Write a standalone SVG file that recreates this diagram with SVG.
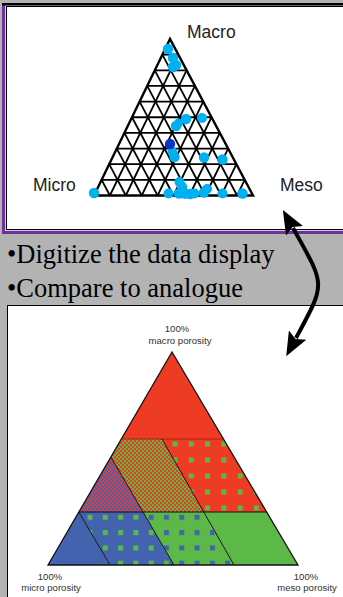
<svg xmlns="http://www.w3.org/2000/svg" width="343" height="597" viewBox="0 0 343 597">
<style>
.grid line{stroke:#000;stroke-width:1.8}
.dot{fill:#00b0f0}
.dk{fill:#0a35c8}
.lbl{font-family:"Liberation Sans",Arial,sans-serif;font-size:17.5px;fill:#222}
.bul{font-family:"Liberation Serif","Times New Roman",serif;font-size:26.5px;fill:#000}
.sm{font-family:"Liberation Sans",Arial,sans-serif;font-size:9.6px;fill:#333;text-anchor:middle}
.edge{fill:none;stroke:#111;stroke-width:1}
</style>
<defs>
<pattern id="chkRG" patternUnits="userSpaceOnUse" width="4" height="4">
<rect width="4" height="4" fill="#ee3b24"/><rect width="2" height="2" fill="#5cb947"/><rect x="2" y="2" width="2" height="2" fill="#5cb947"/>
</pattern>
<pattern id="chkRB" patternUnits="userSpaceOnUse" width="4" height="4">
<rect width="4" height="4" fill="#e03a3a"/><rect width="2" height="2" fill="#4466b0"/><rect x="2" y="2" width="2" height="2" fill="#4466b0"/>
</pattern>
<pattern id="redG" patternUnits="userSpaceOnUse" x="172.5" y="441.5" width="16.3" height="16">
<rect width="16.3" height="16" fill="#ee3b24"/><rect width="5" height="5" fill="#5cb947"/>
</pattern>
<pattern id="blueG" patternUnits="userSpaceOnUse" x="87.5" y="514.8" width="15.3" height="15.3">
<rect width="15.3" height="15.3" fill="#4463ae"/><rect width="5" height="5" fill="#5cb947"/>
</pattern>
<pattern id="greenB" patternUnits="userSpaceOnUse" x="87.5" y="514.8" width="15.3" height="15.3">
<rect width="15.3" height="15.3" fill="#5cb947"/><rect width="5" height="5" fill="#4463ae"/>
</pattern>
<marker id="ah" markerUnits="userSpaceOnUse" markerWidth="24" markerHeight="20" viewBox="0 0 22 18" refX="3" refY="9" orient="auto-start-reverse">
<path d="M0,0 L22,9 L0,18 L4,9 z" fill="#000"/>
</marker>
</defs>
<rect width="343" height="597" fill="#b3b3b3"/>
<g id="top-panel">
<rect x="2" y="4" width="341" height="230" fill="#7030a0"/>
<rect x="5" y="5" width="338" height="226" fill="#cfcfcf"/>
<rect x="6.5" y="6.5" width="337" height="223" fill="#fff" stroke="#000" stroke-width="1"/>
<rect x="2" y="3" width="341" height="2.5" fill="#000"/>
</g>
<g id="ternary-grid" class="grid">
<polygon points="170,39 94,195.5 253,195.5" fill="none" stroke="#000" stroke-width="2.4"/>
<line x1="162.4" y1="54.65" x2="178.3" y2="54.65"/>
<line x1="154.8" y1="70.3" x2="186.6" y2="70.3"/>
<line x1="147.2" y1="85.95" x2="194.9" y2="85.95"/>
<line x1="139.6" y1="101.6" x2="203.2" y2="101.6"/>
<line x1="132" y1="117.25" x2="211.5" y2="117.25"/>
<line x1="124.4" y1="132.9" x2="219.8" y2="132.9"/>
<line x1="116.8" y1="148.55" x2="228.1" y2="148.55"/>
<line x1="109.2" y1="164.2" x2="236.4" y2="164.2"/>
<line x1="101.6" y1="179.85" x2="244.7" y2="179.85"/>
<line x1="109.9" y1="195.5" x2="178.3" y2="54.65"/>
<line x1="125.8" y1="195.5" x2="186.6" y2="70.3"/>
<line x1="141.7" y1="195.5" x2="194.9" y2="85.95"/>
<line x1="157.6" y1="195.5" x2="203.2" y2="101.6"/>
<line x1="173.5" y1="195.5" x2="211.5" y2="117.25"/>
<line x1="189.4" y1="195.5" x2="219.8" y2="132.9"/>
<line x1="205.3" y1="195.5" x2="228.1" y2="148.55"/>
<line x1="221.2" y1="195.5" x2="236.4" y2="164.2"/>
<line x1="237.1" y1="195.5" x2="244.7" y2="179.85"/>
<line x1="109.9" y1="195.5" x2="101.6" y2="179.85"/>
<line x1="125.8" y1="195.5" x2="109.2" y2="164.2"/>
<line x1="141.7" y1="195.5" x2="116.8" y2="148.55"/>
<line x1="157.6" y1="195.5" x2="124.4" y2="132.9"/>
<line x1="173.5" y1="195.5" x2="132" y2="117.25"/>
<line x1="189.4" y1="195.5" x2="139.6" y2="101.6"/>
<line x1="205.3" y1="195.5" x2="147.2" y2="85.95"/>
<line x1="221.2" y1="195.5" x2="154.8" y2="70.3"/>
<line x1="237.1" y1="195.5" x2="162.4" y2="54.65"/>
</g>
<g id="data-points">
<circle class="dot" cx="168" cy="49" r="5.2"/>
<circle class="dot" cx="173" cy="58" r="5.2"/>
<circle class="dot" cx="173" cy="67" r="5.2"/>
<circle class="dot" cx="176" cy="65" r="5.2"/>
<circle class="dot" cx="186" cy="119" r="5.2"/>
<circle class="dot" cx="202" cy="118" r="5"/>
<circle class="dot" cx="176" cy="126" r="5.2"/>
<circle class="dot" cx="178.5" cy="123" r="4.5"/>
<circle class="dot" cx="172.5" cy="152" r="5"/>
<circle class="dot" cx="174.5" cy="157" r="5.2"/>
<circle class="dk" cx="170" cy="144" r="5.2"/>
<circle class="dot" cx="204" cy="157.5" r="5.2"/>
<circle class="dot" cx="222.5" cy="159.5" r="5.2"/>
<circle class="dot" cx="94" cy="193" r="5.2"/>
<circle class="dot" cx="179.5" cy="182" r="5"/>
<circle class="dot" cx="182" cy="187" r="5.2"/>
<circle class="dot" cx="168.5" cy="193.5" r="5"/>
<circle class="dot" cx="179" cy="193.5" r="5.2"/>
<circle class="dot" cx="185" cy="194" r="5"/>
<circle class="dot" cx="190" cy="194" r="5.2"/>
<circle class="dot" cx="194.5" cy="193.5" r="5"/>
<circle class="dot" cx="204" cy="192.5" r="5.2"/>
<circle class="dot" cx="207" cy="189" r="5"/>
<circle class="dot" cx="222.5" cy="193.5" r="5"/>
<circle class="dot" cx="242.5" cy="193.5" r="5.2"/>
</g>
<g id="top-labels">
<text class="lbl" x="187" y="38">Macro</text>
<text class="lbl" x="33" y="191">Micro</text>
<text class="lbl" x="280" y="191">Meso</text>
</g>
<g id="bullets">
<text class="bul" x="7" y="263">•Digitize the data display</text>
<text class="bul" x="7" y="297">•Compare to analogue</text>
</g>
<g id="bottom-panel">
<rect x="7.5" y="305.5" width="337" height="293" fill="#fff" stroke="#000" stroke-width="1"/>
</g>
<g id="analogue-triangle">
<polygon points="172,352 121.35,439 223.46,439" fill="#ee3b24"/>
<polygon points="121.35,439 162,439 203,512 143,512 110.87,457" fill="url(#chkRG)"/>
<polygon points="162,439 223.46,439 266.64,512 203,512" fill="url(#redG)"/>
<polygon points="110.87,457 143,512 78.85,512" fill="url(#chkRB)"/>
<polygon points="78.85,512 48,565 110,565" fill="#4463ae"/>
<polygon points="78.85,512 143,512 174,565 110,565" fill="url(#blueG)"/>
<polygon points="143,512 203,512 234,565 174,565" fill="url(#greenB)"/>
<polygon points="203,512 266.64,512 298,565 234,565" fill="#5cb947"/>
<line x1="121.35" y1="439" x2="223.46" y2="439" stroke="#a8231a" stroke-width="1.2"/>
<line x1="78.85" y1="512" x2="266.64" y2="512" class="edge"/>
<line x1="162" y1="439" x2="234" y2="565" class="edge"/>
<line x1="110.87" y1="457" x2="174" y2="565" class="edge"/>
<line x1="78.85" y1="512" x2="110" y2="565" class="edge"/>
<polygon points="172,352 48,565 298,565" fill="none" stroke="#111" stroke-width="1.3"/>
</g>
<g id="analogue-labels">
<text class="sm" x="177" y="332">100%</text>
<text class="sm" x="180" y="344">macro porosity</text>
<text class="sm" x="50" y="580">100%</text>
<text class="sm" x="51" y="591">micro porosity</text>
<text class="sm" x="306" y="580">100%</text>
<text class="sm" x="307" y="591">meso porosity</text>
</g>
<g id="connectors">
<path d="M293,228 C326,287 326,282 296,338" fill="none" stroke="#000" stroke-width="4" marker-start="url(#ah)" marker-end="url(#ah)"/>
</g>
</svg>
